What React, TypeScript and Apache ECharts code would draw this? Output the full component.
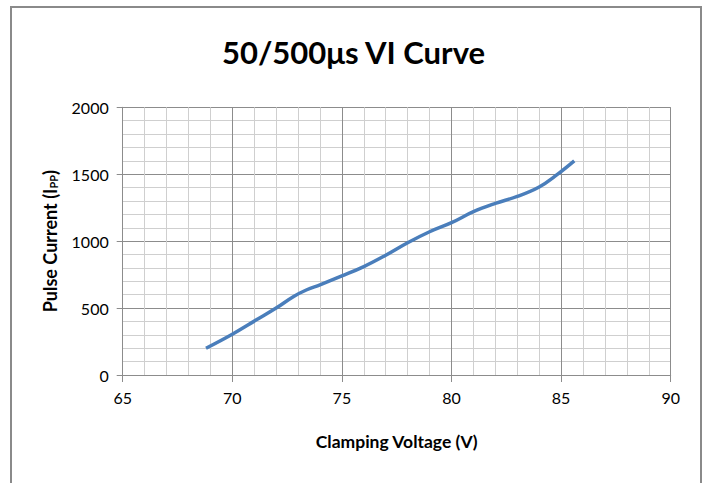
import React, { useEffect, useRef } from "react";
import * as echarts from "echarts";

const voltage = [68.8, 70, 71.1, 72.0, 72.8, 73.4, 74.0, 75.0, 76.0, 77.0, 78.0, 79.0, 80.0, 81.0, 82.0, 83.0, 84.0, 84.8, 85.6];
const current = [200, 305, 412, 500, 587, 637, 674, 740, 810, 895, 988, 1070, 1138, 1220, 1282, 1334, 1405, 1495, 1600];

const xTicks = { min: 65, max: 90, interval: 5 };
const yTicks = { min: 0, max: 2000, interval: 500 };

const FONT = "Lato";

export default function App() {
  const ref = useRef<HTMLDivElement>(null);
  useEffect(() => {
    if (!ref.current) return;
    const chart = echarts.init(ref.current, null, { renderer: "svg" });
    const data = voltage.map((v, i) => [v, current[i]]);
    chart.setOption({
      animation: false,
      backgroundColor: "#ffffff",
      title: {
        text: "50/500μs VI Curve",
        left: "center",
        top: 31,
        textStyle: { fontFamily: FONT, fontWeight: "bold", fontSize: 31, color: "#000" },
      },
      graphic: [
        {
          type: "rect",
          shape: { x: 11, y: 7, width: 690, height: 500 },
          style: { fill: "none", stroke: "#8a8a8a", lineWidth: 2 },
          silent: true,
        },
      ],
      grid: { left: 122.7, right: 36.3, top: 107.3, bottom: 108, containLabel: false },
      xAxis: {
        type: "value",
        min: xTicks.min,
        max: xTicks.max,
        interval: xTicks.interval,
        name: "Clamping Voltage (V)",
        nameLocation: "middle",
        nameGap: 57,
        nameTextStyle: { fontFamily: FONT, fontWeight: "bold", fontSize: 17.5, color: "#000" },
        axisLine: { show: true, lineStyle: { color: "#8c8c8c", width: 1 } },
        axisTick: { show: true, inside: false, length: 7, lineStyle: { color: "#8c8c8c" } },
        axisLabel: { fontFamily: FONT, fontSize: 16, color: "#000", margin: 14 },
        splitLine: { show: true, lineStyle: { color: "#8c8c8c", width: 1 } },
        minorTick: { show: false, splitNumber: 5 },
        minorSplitLine: { show: true, lineStyle: { color: "#cfcfcf", width: 1 } },
      },
      yAxis: {
        type: "value",
        min: yTicks.min,
        max: yTicks.max,
        interval: yTicks.interval,
        name: "Pulse Current (I{s|PP})",
        nameLocation: "middle",
        nameGap: 64,
        nameRotate: 90,
        nameTextStyle: {
          fontFamily: FONT,
          fontWeight: "bold",
          fontSize: 18,
          color: "#000",
          rich: {
            s: { fontFamily: FONT, fontWeight: "bold", fontSize: 11, color: "#000", verticalAlign: "bottom", padding: [7, 0, 0, 0] },
          },
        },
        axisLine: { show: true, lineStyle: { color: "#8c8c8c", width: 1 } },
        axisTick: { show: true, inside: false, length: 6, lineStyle: { color: "#8c8c8c" } },
        axisLabel: { fontFamily: FONT, fontSize: 16, color: "#000", margin: 14, formatter: (v: number) => String(v) },
        splitLine: { show: true, lineStyle: { color: "#8c8c8c", width: 1 } },
        minorTick: { show: false, splitNumber: 5 },
        minorSplitLine: { show: true, lineStyle: { color: "#cfcfcf", width: 1 } },
      },
      series: [
        {
          type: "line",
          data,
          smooth: 0.4,
          symbol: "none",
          lineStyle: { color: "#4a7ebb", width: 3.5 },
        },
      ],
    });
    return () => chart.dispose();
  }, []);
  return <div ref={ref} style={{ position: "absolute", left: 0, top: 0, width: 707, height: 483 }} />;
}
